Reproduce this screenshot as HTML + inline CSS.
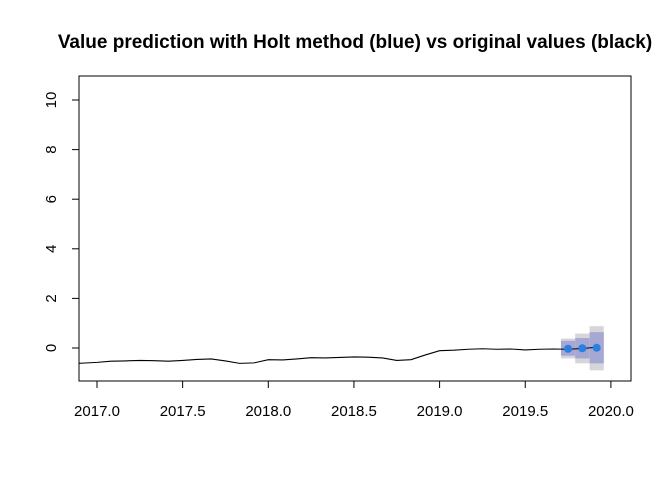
<!DOCTYPE html>
<html><head><meta charset="utf-8"><style>
body{margin:0;background:#fff;}
svg text{font-family:"Liberation Sans",Arial,sans-serif;}
</style></head><body>
<svg id="chart" width="672" height="480" xmlns="http://www.w3.org/2000/svg">
<defs><clipPath id="pc"><rect x="79" y="76" width="552" height="305"/></clipPath></defs>
<text x="355" y="48" text-anchor="middle" font-size="19" font-weight="bold">Value prediction with Holt method (blue) vs original values (black)</text>
<rect x="79" y="76" width="552" height="305" fill="none" stroke="#000" stroke-width="1"/>
<g id="axes"></g>
<g id="bands" clip-path="url(#pc)"></g>
<g id="series" clip-path="url(#pc)"></g>
</svg>
<script>
const months=[2016.833,2016.917,2017.0,2017.083,2017.167,2017.25,2017.333,2017.417,2017.5,2017.583,2017.667,2017.75,2017.833,2017.917,2018.0,2018.083,2018.167,2018.25,2018.333,2018.417,2018.5,2018.583,2018.667,2018.75,2018.833,2018.917,2019.0,2019.083,2019.167,2019.25,2019.333,2019.417,2019.5,2019.583,2019.667,2019.75,2019.833,2019.917];
const values=[-0.64,-0.61,-0.58,-0.53,-0.52,-0.50,-0.51,-0.53,-0.50,-0.46,-0.44,-0.52,-0.62,-0.60,-0.47,-0.48,-0.44,-0.39,-0.40,-0.38,-0.36,-0.37,-0.40,-0.50,-0.47,-0.28,-0.11,-0.09,-0.05,-0.03,-0.05,-0.04,-0.08,-0.05,-0.04,-0.05,-0.02,0.03];
const fcTimes=[2019.75,2019.833,2019.917];
const fcMean=[-0.03,-0.01,0.01];
const lo80=[-0.31,-0.42,-0.62];
const hi80=[0.29,0.40,0.64];
const lo95=[-0.42,-0.62,-0.90];
const hi95=[0.38,0.58,0.88];
const xTicks=[2017.0,2017.5,2018.0,2018.5,2019.0,2019.5,2020.0];
const xTickLabels=["2017.0","2017.5","2018.0","2018.5","2019.0","2019.5","2020.0"];
const yTicks=[0,2,4,6,8,10];
const yTickLabels=["0","2","4","6","8","10"];

const X=t=>97+(t-2017)*171.3;
const Y=v=>348-v*24.8;
const NS="http://www.w3.org/2000/svg";
function mk(tag,attrs,parent){const e=document.createElementNS(NS,tag);for(const k in attrs)e.setAttribute(k,attrs[k]);parent.appendChild(e);return e;}
const axes=document.getElementById('axes'),bands=document.getElementById('bands'),series=document.getElementById('series');

mk('line',{x1:X(xTicks[0]),x2:X(xTicks[xTicks.length-1]),y1:381,y2:381,stroke:'#000'},axes);
xTicks.forEach((t,i)=>{
  const l=mk('line',{x1:X(t),x2:X(t),y1:381,y2:388,stroke:'#000'},axes);
  
  
  const tx=mk('text',{x:X(t),y:416,'text-anchor':'middle','font-size':'15'},axes);
  tx.textContent=xTickLabels[i];
  
  
});
mk('line',{x1:79,x2:79,y1:Y(yTicks[0]),y2:Y(yTicks[yTicks.length-1]),stroke:'#000'},axes);
yTicks.forEach((v,i)=>{
  const l=mk('line',{x1:72,x2:79,y1:Y(v),y2:Y(v),stroke:'#000'},axes);
  
  
  const tx=mk('text',{x:0,y:0,'text-anchor':'middle','font-size':'15',transform:`translate(56,${Y(v)}) rotate(-90)`},axes);
  tx.textContent=yTickLabels[i];
  
  
});
const hw=7.1;
fcTimes.forEach((t,i)=>{
  const r1=mk('rect',{x:X(t)-hw,width:2*hw,y:Y(hi95[i]),height:Y(lo95[i])-Y(hi95[i]),fill:'#d6d6da'},bands);
  
  
});
fcTimes.forEach((t,i)=>{
  const r2=mk('rect',{x:X(t)-hw,width:2*hw,y:Y(hi80[i]),height:Y(lo80[i])-Y(hi80[i]),fill:'#a5a8d2'},bands);
  
  
});
const p=mk('polyline',{points:months.map((t,i)=>X(t)+','+Y(values[i])).join(' '),fill:'none',stroke:'#000','stroke-width':'1.1'},series);


fcTimes.forEach((t,i)=>{
  const c=mk('circle',{cx:X(t),cy:Y(fcMean[i]),r:4,fill:'#2a7fe0'},series);
  
  
});
</script>
</body></html>
